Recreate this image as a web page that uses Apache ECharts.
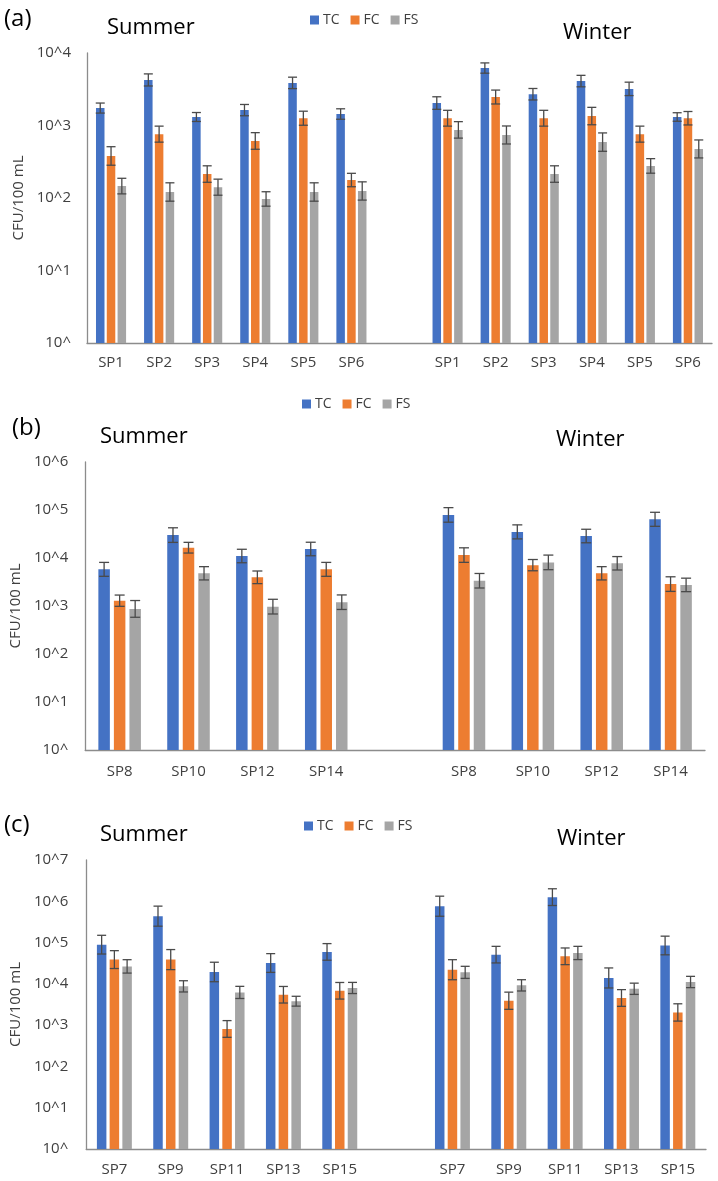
<!DOCTYPE html>
<html>
<head>
<meta charset="utf-8">
<script src="https://cdn.jsdelivr.net/npm/echarts@6/dist/echarts.min.js"></script>
<style>
html,body{margin:0;padding:0;background:#fff;}
#chart{width:718px;height:1181px;}
</style>
</head>
<body>
<div id="chart"></div>
<script>
// ---------- Panel (a) ----------
const aSites = ['SP1', 'SP2', 'SP3', 'SP4', 'SP5', 'SP6'];
const aSummerTC = [1740, 4250, 1310, 1630, 3870, 1440];
const aSummerFC = [380, 760, 214, 612, 1260, 177];
const aSummerFS = [146, 121, 141, 97, 121, 125];
const aWinterTC = [2040, 6200, 2700, 4100, 3200, 1310];
const aWinterFC = [1260, 2470, 1260, 1350, 760, 1260];
const aWinterFS = [870, 740, 214, 590, 277, 475];
const aSummerTCErr = [300, 900, 200, 320, 770, 260];
const aSummerFCErr = [130, 220, 64, 185, 315, 42];
const aSummerFSErr = [41, 41, 41, 25, 41, 42];
const aWinterTCErr = [450, 1100, 540, 820, 760, 190];
const aWinterFCErr = [360, 610, 360, 430, 220, 300];
const aWinterFSErr = [260, 245, 64, 200, 72, 157];

// ---------- Panel (b) ----------
const bSites = ['SP8', 'SP10', 'SP12', 'SP14'];
const bSummerTC = [5800, 30000, 11000, 15400];
const bSummerFC = [1290, 16400, 3960, 5800];
const bSummerFS = [870, 4800, 970, 1200];
const bWinterTC = [79000, 35000, 28700, 64000];
const bWinterFC = [11500, 7100, 4800, 2860];
const bWinterFS = [3360, 8100, 7760, 2750];
const bSummerTCErr = [2300, 12600, 4200, 5900];
const bSummerFCErr = [400, 4800, 1400, 2300];
const bSummerFSErr = [430, 1800, 410, 500];
const bWinterTCErr = [33000, 14000, 11000, 25600];
const bWinterFCErr = [4800, 2200, 1800, 1200];
const bWinterFSErr = [1400, 3400, 2950, 1050];

// ---------- Panel (c) ----------
const cSites = ['SP7', 'SP9', 'SP11', 'SP13', 'SP15'];
const cSummerTC = [89000, 436000, 19400, 32000, 59400];
const cSummerFC = [38700, 38700, 808, 5450, 6800];
const cSummerFS = [26500, 8700, 6200, 3800, 7950];
const cWinterTC = [760000, 51000, 1260000, 13900, 85000];
const cWinterFC = [22000, 3900, 46500, 4550, 2030];
const cWinterFS = [19000, 9200, 56000, 7600, 11100];
const cSummerTCErr = [61000, 327000, 14000, 22000, 35000];
const cSummerFCErr = [25000, 29000, 480, 3200, 4000];
const cSummerFSErr = [12000, 3200, 2500, 1200, 2900];
const cWinterTCErr = [570000, 30000, 750000, 10400, 58000];
const cWinterFCErr = [16500, 2400, 27500, 2700, 1260];
const cWinterFSErr = [7600, 3400, 25000, 2800, 4100];

const seriesNames = ['TC', 'FC', 'FS'];
const panelLetters = ['(a)', '(b)', '(c)'];
const seasonNames = ['Summer', 'Winter'];
const axisMax = [1e4, 1e6, 1e7];
const yAxisName = 'CFU/100 mL';

const COLORS = { TC: '#4472C4', FC: '#ED7D31', FS: '#A5A5A5' };
const FONT = 'Open Sans';

function joinSeason(summer, winter) { return summer.concat([null], winter); }

const panels = [
  { sites: aSites,
    vals: [joinSeason(aSummerTC, aWinterTC), joinSeason(aSummerFC, aWinterFC), joinSeason(aSummerFS, aWinterFS)],
    errs: [joinSeason(aSummerTCErr, aWinterTCErr), joinSeason(aSummerFCErr, aWinterFCErr), joinSeason(aSummerFSErr, aWinterFSErr)],
    grid: { left: 87, top: 53, width: 625, height: 290 },
    barWidth: 8.5, barGap: 0.27, cap: 9,
    legendLeft: 305, legendTop: 8,
    letter: [4, 19], summer: [107, 28], winter: [563, 33], labelMargin: 16, xMargin: 12 },
  { sites: bSites,
    vals: [joinSeason(bSummerTC, bWinterTC), joinSeason(bSummerFC, bWinterFC), joinSeason(bSummerFS, bWinterFS)],
    errs: [joinSeason(bSummerTCErr, bWinterTCErr), joinSeason(bSummerFCErr, bWinterFCErr), joinSeason(bSummerFSErr, bWinterFSErr)],
    grid: { left: 80, top: 462, width: 625, height: 288 },
    barWidth: 11.5, barGap: 0.35, cap: 10,
    legendLeft: 297, legendTop: 392,
    letter: [12, 428], summer: [100, 437], winter: [556, 440], labelMargin: 17, xMargin: 14 },
  { sites: cSites,
    vals: [joinSeason(cSummerTC, cWinterTC), joinSeason(cSummerFC, cWinterFC), joinSeason(cSummerFS, cWinterFS)],
    errs: [joinSeason(cSummerTCErr, cWinterTCErr), joinSeason(cSummerFCErr, cWinterFCErr), joinSeason(cSummerFSErr, cWinterFSErr)],
    grid: { left: 82, top: 860, width: 624, height: 289 },
    barWidth: 9.5, barGap: 0.34, cap: 9,
    legendLeft: 299, legendTop: 814,
    letter: [4, 825], summer: [100, 835], winter: [557, 839], labelMargin: 18, xMargin: 13 }
];

function errRenderer(offset, capW) {
  return function (params, api) {
    const idx = api.value(0), v = api.value(1), e = api.value(2);
    const c = api.coord([idx, v]);
    const hi = api.coord([idx, v + e])[1];
    const dy = c[1] - hi;
    const lo = c[1] + dy;
    const x = c[0] + offset;
    const st = { stroke: '#4a4a4a', lineWidth: 1.3 };
    return {
      type: 'group',
      children: [
        { type: 'line', shape: { x1: x, y1: hi, x2: x, y2: lo }, style: st },
        { type: 'line', shape: { x1: x - capW / 2, y1: hi, x2: x + capW / 2, y2: hi }, style: st },
        { type: 'line', shape: { x1: x - capW / 2, y1: lo, x2: x + capW / 2, y2: lo }, style: st }
      ]
    };
  };
}

const grids = [], xAxes = [], yAxes = [], series = [], legends = [], graphics = [];

panels.forEach(function (p, k) {
  grids.push(p.grid);
  const cats = p.sites.concat([''], p.sites);
  xAxes.push({
    type: 'category', gridIndex: k, data: cats,
    axisTick: { show: false },
    axisLine: { lineStyle: { color: '#8c8c8c', width: 1.3 } },
    axisLabel: { color: '#404040', fontSize: 15, fontFamily: FONT, margin: p.xMargin, interval: 0 }
  });
  yAxes.push({
    type: 'log', logBase: 10, gridIndex: k, min: 1, max: axisMax[k],
    name: yAxisName, nameLocation: 'middle', nameGap: 50, nameRotate: 90,
    nameTextStyle: { color: '#404040', fontSize: 15, fontFamily: FONT },
    axisLine: { show: true, lineStyle: { color: '#8c8c8c', width: 1.3 } },
    axisTick: { show: false },
    splitLine: { show: false },
    axisLabel: {
      color: '#404040', fontSize: 15, fontFamily: FONT, margin: p.labelMargin,
      formatter: function (val) {
        const ex = Math.round(Math.log10(val));
        return '10^' + (ex === 0 ? '' : ex);
      }
    }
  });
  const step = p.barWidth * (1 + p.barGap);
  seriesNames.forEach(function (nm, i) {
    series.push({
      name: nm, type: 'bar', xAxisIndex: k, yAxisIndex: k,
      data: p.vals[i],
      barWidth: p.barWidth, barGap: (p.barGap * 100) + '%',
      itemStyle: { color: COLORS[nm] },
      z: 2
    });
  });
  seriesNames.forEach(function (nm, i) {
    const d = [];
    p.vals[i].forEach(function (v, j) { if (v != null) d.push([j, v, p.errs[i][j]]); });
    series.push({
      name: 'err_' + nm + '_' + k, type: 'custom', xAxisIndex: k, yAxisIndex: k,
      data: d, encode: { x: 0, y: 1 }, z: 5, silent: true,
      renderItem: errRenderer((i - 1) * step, p.cap)
    });
  });
  legends.push({
    data: seriesNames, left: p.legendLeft, top: p.legendTop,
    icon: 'rect', itemWidth: 9, itemHeight: 9, itemGap: 11,
    textStyle: { color: '#404040', fontSize: 14, fontFamily: FONT, padding: [0, 0, 0, -1] }
  });
  graphics.push({ type: 'text', x: p.letter[0], y: p.letter[1],
    style: { text: panelLetters[k], font: '24px "' + FONT + '"', fill: '#000', textVerticalAlign: 'middle' } });
  graphics.push({ type: 'text', x: p.summer[0], y: p.summer[1],
    style: { text: seasonNames[0], font: '22px "' + FONT + '"', fill: '#000', textVerticalAlign: 'middle' } });
  graphics.push({ type: 'text', x: p.winter[0], y: p.winter[1],
    style: { text: seasonNames[1], font: '22px "' + FONT + '"', fill: '#000', textVerticalAlign: 'middle' } });
});

const chart = echarts.init(document.getElementById('chart'), null, { renderer: 'canvas' });
chart.setOption({
  backgroundColor: '#fff',
  animation: false,
  grid: grids,
  xAxis: xAxes,
  yAxis: yAxes,
  legend: legends,
  series: series,
  graphic: graphics
});
</script>
</body>
</html>
